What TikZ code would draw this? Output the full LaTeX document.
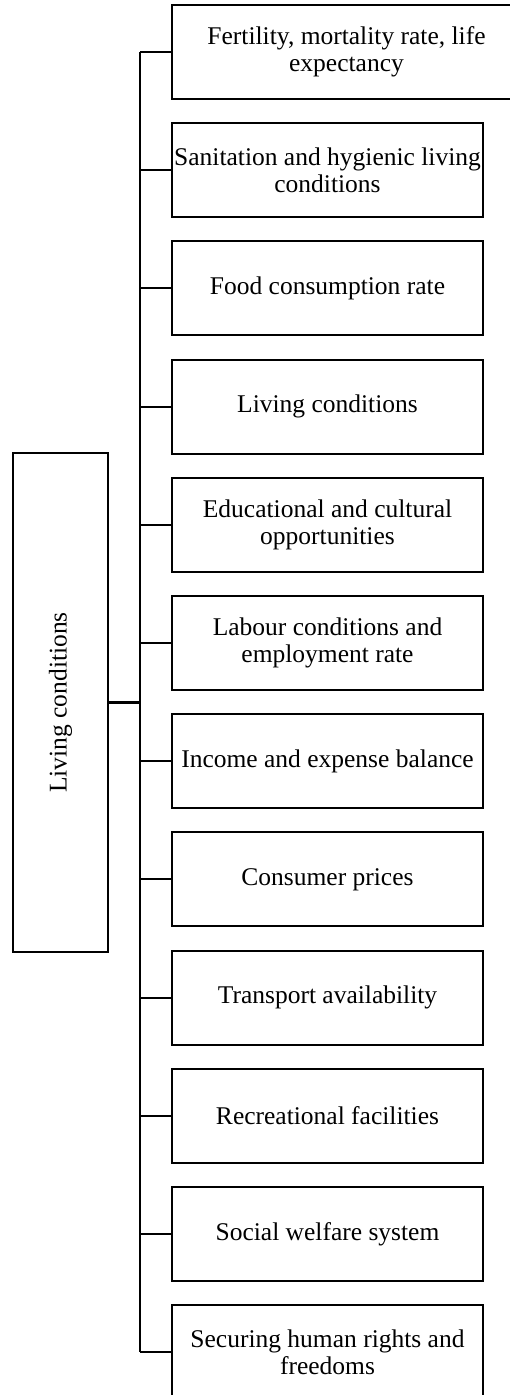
\documentclass[tikz,border=0pt]{standalone}
\usepackage{fontspec}
\setmainfont{Liberation Serif}
\begin{document}
\begin{tikzpicture}[x=1pt,y=1pt,
  itembox/.style={draw, line width=2pt, minimum width=311pt, minimum height=94pt,
    inner sep=0pt, align=center, font=\fontsize{25.5}{27.3}\selectfont},
  conn/.style={line width=2pt},
  mainconn/.style={line width=3pt}]
\useasboundingbox (0,0) rectangle (510,-1395);
\clip (0,0) rectangle (510,-1395);
\fill[white] (0,0) rectangle (510,-1395);
\node[itembox, minimum width=349pt] (b1) at (346.5,-52) {Fertility, mortality rate, life\\expectancy};
\node[itembox] (b2) at (327.5,-170.2) {Sanitation and hygienic living\\conditions};
\node[itembox] (b3) at (327.5,-288.4) {Food consumption rate};
\node[itembox] (b4) at (327.5,-406.6) {Living conditions};
\node[itembox] (b5) at (327.5,-524.8) {Educational and cultural\\opportunities};
\node[itembox] (b6) at (327.5,-643) {Labour conditions and\\employment rate};
\node[itembox] (b7) at (327.5,-761.2) {Income and expense balance};
\node[itembox] (b8) at (327.5,-879.4) {Consumer prices};
\node[itembox] (b9) at (327.5,-997.6) {Transport availability};
\node[itembox] (b10) at (327.5,-1115.8) {Recreational facilities};
\node[itembox] (b11) at (327.5,-1234) {Social welfare system};
\node[itembox] (b12) at (327.5,-1352.2) {Securing human rights and\\freedoms};
\node[draw, line width=2pt, minimum width=95pt, minimum height=499pt, inner sep=0pt]
  (main) at (60.5,-702.5) {};
\node[rotate=90, font=\fontsize{25.5}{27.3}\selectfont] (maintext) at (main.center) {Living conditions};
\coordinate (tr) at (140,0);
\draw[conn] (b1.west -| tr) -- (b12.west -| tr);
\foreach \i in {1,...,12} {
  \draw[conn] (b\i.west) -- (b\i.west -| tr);
}
\draw[mainconn] (main.east) -- (main.east -| tr);
\end{tikzpicture}
\end{document}
